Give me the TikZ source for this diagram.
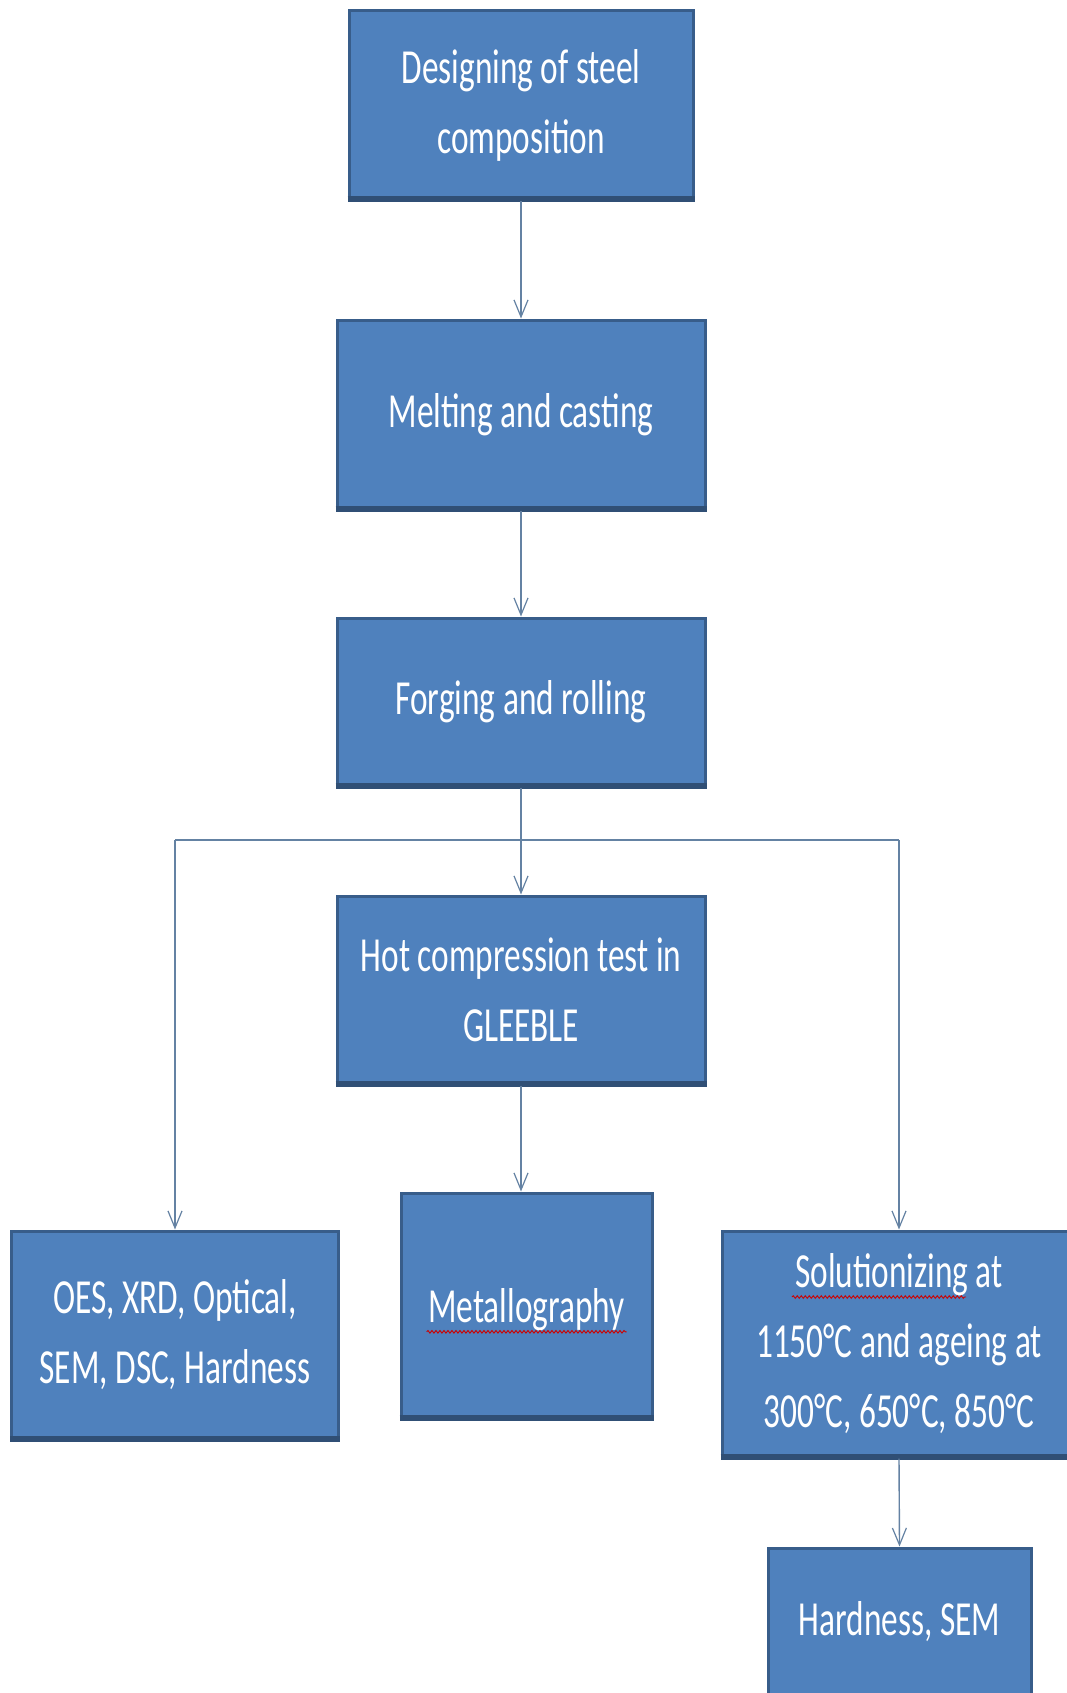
\documentclass[tikz,border=0pt]{standalone}
\usepackage{fontspec}
\setmainfont{Carlito}
\newfontfamily\boxfont[FakeStretch=0.68]{Carlito}
\usetikzlibrary{arrows.meta,decorations.pathmorphing}
\definecolor{boxfill}{HTML}{4F81BD}
\definecolor{boxedge}{HTML}{385D8A}
\definecolor{linkcol}{HTML}{6482A3}
\tikzset{
  box/.style={draw=boxedge, line width=3pt, fill=boxfill, text=white,
    align=center, inner sep=0pt, font=\boxfont\fontsize{49}{70}\selectfont},
  link/.style={draw=linkcol, line width=1.4pt,
    -{Straight Barb[length=17pt,width=14pt,line width=1.2pt]}},
  plain/.style={draw=linkcol, line width=1.4pt},
  squiggle/.style={draw=red!80!black, line width=0.9pt,
    decorate, decoration={snake, amplitude=1.3pt, segment length=4pt}}
}
\begin{document}
\begin{tikzpicture}[x=1pt,y=-1pt]
\useasboundingbox (0,0) rectangle (1067,1693);
\fill[white] (0,0) rectangle (1067,1693);
\clip (0,0) rectangle (1067,1693);

\node[box, minimum width=344pt, minimum height=189pt] (b1) at (521,105.5)
  {Designing of steel\\composition};
\node[box, minimum width=368pt, minimum height=189pt] (b2) at (521,414.5)
  {Melting and casting};
\node[box, minimum width=368pt, minimum height=168pt] (b3) at (521,702)
  {Forging and rolling};
\node[box, minimum width=368pt, minimum height=188pt] (b4) at (521,990)
  {Hot compression test in\\GLEEBLE};
\node[box, minimum width=327pt, minimum height=208pt] (b5) at (175,1335)
  {OES, XRD, Optical,\\SEM, DSC, Hardness};
\node[box, minimum width=251pt, minimum height=225pt] (b6) at (526.5,1305.5)
  {};
\node[text=white, font=\boxfont\fontsize{49}{70}\selectfont] (t6) at (526.5,1310)
  {Metallography};
\node[box, minimum width=354pt, minimum height=226pt] (b7) at (899,1344)
  {Solutionizing at\\1150°C and ageing at\\300°C, 650°C, 850°C};
\node[box, minimum width=263pt, minimum height=180pt] (b8) at (899.5,1638)
  {};
\node[text=white, font=\boxfont\fontsize{49}{70}\selectfont] (t8) at (899.5,1622)
  {Hardness, SEM};

% darker bottom edges
\foreach \n in {b1,b2,b3,b4,b5,b6,b7}
  \draw[boxedge!85!black, line width=6pt]
    ([yshift=2pt]\n.south west) -- ([yshift=2pt]\n.south east);

% spell-check squiggles
\draw[squiggle] (t6.base west) ++(2,9) -- ++(200,0);
\draw[squiggle] (792,1297) -- (966,1297);

% connectors
\coordinate (L) at (175,840);
\coordinate (R) at (899,840);
\draw[link] (b1.south) -- (b2.north);
\draw[link] (b2.south) -- (b3.north);
\draw[link] (b3.south) -- (b4.north);
\draw[plain] (L) -- (R);
\draw[link] (L) -- (b5.north);
\draw[link] (R) -- (b7.north);
\draw[link] (b4.south) -- (b4.south |- b6.north);
\draw[link] (b7.south) -- (b8.north);
\end{tikzpicture}
\end{document}
